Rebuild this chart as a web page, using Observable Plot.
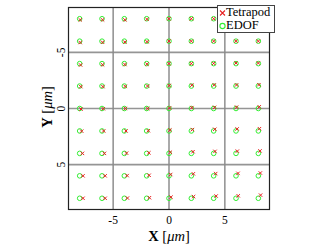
<!DOCTYPE html>
<html><head><meta charset="utf-8">
<script src="https://cdn.jsdelivr.net/npm/d3@7"></script>
<script src="https://cdn.jsdelivr.net/npm/@observablehq/plot@0.6"></script>
<style>
body{margin:0;background:#fff}
#wrap{position:relative;width:325px;height:247px;font-family:"Liberation Serif","DejaVu Serif",serif}
#legend{position:absolute;left:217px;top:5px;width:58px;height:28px;background:#fff;border:1.3px solid #444;font-family:"Liberation Serif",serif;font-size:12.5px;line-height:13px;padding-left:1px;padding-top:0px;box-sizing:border-box;color:#000}
#legend div{white-space:nowrap;display:flex;align-items:center;height:13px}
</style>
</head><body><div id="wrap"></div>
<script>
const gridX = [-8, -6, -4, -2, 0, 2, 4, 6, 8];
const gridY = [-8, -6, -4, -2, 0, 2, 4, 6, 8];
const ticks = [-5, 0, 5];
const tickLabels = ["-5", "0", "5"];
const seriesNames = ["Tetrapod", "EDOF"];
const seriesColors = ["#e82020", "#33ee33"];
// Tetrapod positions, one row per grid row (y = -8 ... 8)
const tetraX = [
  [-7.95,-5.95,-3.95,-1.97,0.00,2.00,4.00,6.00,8.00],
  [-7.95,-5.95,-3.95,-1.97,0.00,2.00,4.00,6.00,8.00],
  [-7.92,-5.95,-3.95,-1.97,0.00,2.00,4.00,6.00,8.00],
  [-7.90,-5.92,-3.92,-1.92,0.02,2.05,4.05,6.05,8.05],
  [-7.88,-5.88,-3.90,-1.90,0.05,2.05,4.08,6.05,8.08],
  [-7.82,-5.85,-3.85,-1.85,0.08,2.10,4.10,6.10,8.10],
  [-7.75,-5.78,-3.80,-1.80,0.12,2.15,4.12,6.12,8.15],
  [-7.70,-5.72,-3.75,-1.78,0.15,2.18,4.18,6.18,8.18],
  [-7.70,-5.72,-3.72,-1.75,0.18,2.20,4.22,6.20,8.20]
];
const tetraY = [
  [-7.90,-7.90,-7.90,-7.95,-8.00,-8.00,-8.00,-8.00,-8.00],
  [-5.88,-5.90,-5.92,-5.95,-6.00,-6.00,-6.00,-6.00,-6.00],
  [-3.88,-3.90,-3.92,-3.95,-4.00,-4.00,-4.02,-4.05,-4.05],
  [-1.95,-1.95,-1.97,-2.00,-2.05,-2.08,-2.10,-2.10,-2.12],
  [0.05,0.02,0.00,0.00,-0.05,-0.08,-0.10,-0.12,-0.15],
  [2.02,2.00,2.00,1.98,1.92,1.88,1.85,1.82,1.80],
  [4.00,4.00,3.98,3.95,3.90,3.85,3.82,3.80,3.78],
  [6.00,6.00,5.98,5.95,5.88,5.82,5.80,5.78,5.75],
  [8.00,8.00,7.98,7.95,7.90,7.85,7.80,7.78,7.72]
];

const edof = [];
gridY.forEach(y => gridX.forEach(x => edof.push({x, y})));
const tetra = [];
tetraX.forEach((row, i) => row.forEach((x, j) => tetra.push({x, y: tetraY[i][j]})));
const fmt = d => tickLabels[ticks.indexOf(d)];

const plot = Plot.plot({
  width: 325, height: 247,
  marginLeft: 68, marginRight: 56, marginTop: 7, marginBottom: 38,
  style: {fontFamily: '"Liberation Serif", serif', fontSize: "11.5px", color: "#000", background: "#fff"},
  x: {domain: [-9, 9], ticks: ticks, label: null},
  y: {domain: [-9, 9], reverse: true, ticks: ticks, label: null},
  marks: [
    Plot.gridX(ticks, {stroke: "#8a8a8a", strokeOpacity: 0.9, strokeWidth: 1.6}),
    Plot.gridY(ticks, {stroke: "#8a8a8a", strokeOpacity: 0.9, strokeWidth: 1.6}),
    Plot.axisX(ticks, {tickSize: 0, tickPadding: 6, fontSize: 11.5, tickFormat: fmt}),
    Plot.axisY(ticks, {tickSize: 0, tickPadding: 4, tickRotate: -90, fontSize: 11.5, tickFormat: fmt}),
    Plot.dot(edof, {x: "x", y: "y", r: 2.3, stroke: seriesColors[1], strokeWidth: 1, fill: "none"}),
    Plot.dot(tetra, {x: "x", y: "y", symbol: "times", r: 1.7, stroke: seriesColors[0], strokeWidth: 1}),
    Plot.frame({stroke: "#222", strokeWidth: 1.2})
  ]
});

const svg = d3.select(plot);
const xl = svg.append("text").attr("x", 169).attr("y", 241).attr("text-anchor", "middle")
  .attr("font-size", 14.5).attr("font-family", '"Liberation Serif", serif').attr("fill", "#000");
xl.append("tspan").attr("font-weight", "bold").text("X");
xl.append("tspan").text(" [");
xl.append("tspan").attr("font-style", "italic").text("μm");
xl.append("tspan").text("]");
const yl = svg.append("text").attr("transform", "translate(52,107) rotate(-90)").attr("text-anchor", "middle")
  .attr("font-size", 14.5).attr("font-family", '"Liberation Serif", serif').attr("fill", "#000");
yl.append("tspan").attr("font-weight", "bold").text("Y");
yl.append("tspan").text(" [");
yl.append("tspan").attr("font-style", "italic").text("μm");
yl.append("tspan").text("]");

const wrap = document.getElementById("wrap");
wrap.appendChild(plot);
const lg = document.createElement("div");
lg.id = "legend";
const xIcon = `<svg width="7" height="8" viewBox="0 0 7 8"><path d="M1,1.5L6,6.5M6,1.5L1,6.5" stroke="${seriesColors[0]}" stroke-width="1.1"/></svg>`;
const oIcon = `<svg width="7" height="8" viewBox="0 0 7 8"><circle cx="3.5" cy="4" r="2.6" fill="none" stroke="${seriesColors[1]}" stroke-width="1.1"/></svg>`;
lg.innerHTML = `<div>${xIcon}<span>${seriesNames[0]}</span></div><div>${oIcon}<span>${seriesNames[1]}</span></div>`;
wrap.appendChild(lg);
</script>
</body></html>
